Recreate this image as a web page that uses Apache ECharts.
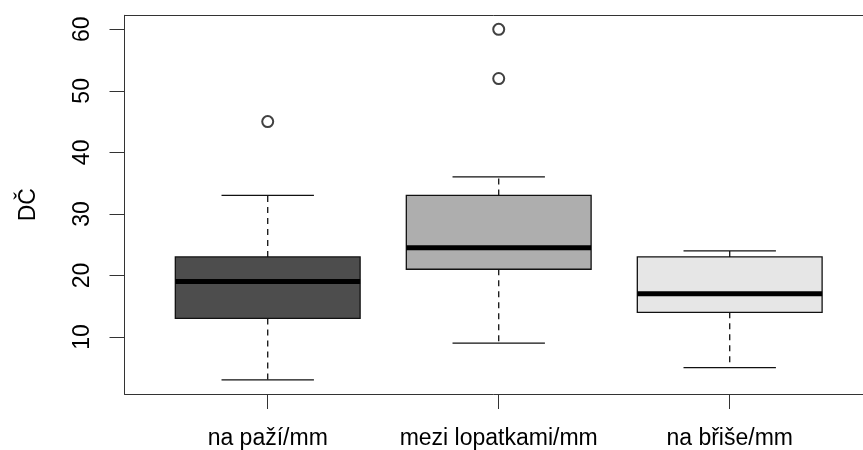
<!DOCTYPE html>
<html>
<head>
<meta charset="utf-8">
<script src="https://cdn.jsdelivr.net/npm/echarts@6/dist/echarts.min.js"></script>
<style>html,body{margin:0;padding:0;background:#fff;}#c{width:863px;height:450px;}</style>
</head>
<body>
<div id="c"></div>
<script>
var categories = ['na paží/mm', 'mezi lopatkami/mm', 'na břiše/mm'];
var whiskerLow = [3, 9, 5];
var q1 = [13, 21, 14];
var median = [19, 24.5, 17];
var q3 = [23, 33, 23];
var whiskerHigh = [33, 36, 24];
var outlierGroup = [1, 2, 2];
var outlierValue = [45, 52, 60];
var yTicks = [10, 20, 30, 40, 50, 60];
var xTicks = [1, 2, 3];
var boxFill = ['#4D4D4D', '#AEAEAE', '#E6E6E6'];

var boxData = categories.map(function (c, i) {
  return [i + 1, whiskerLow[i], q1[i], median[i], q3[i], whiskerHigh[i]];
});
var outData = outlierGroup.map(function (g, i) { return [g, outlierValue[i]]; });

var FONT = 'Liberation Sans, Arial, sans-serif';
var chart = echarts.init(document.getElementById('c'), null, {renderer: 'canvas'});

function renderBox(params, api) {
  var x = api.value(0);
  var lo = api.coord([x, api.value(1)]);
  var b1 = api.coord([x, api.value(2)]);
  var md = api.coord([x, api.value(3)]);
  var b3 = api.coord([x, api.value(4)]);
  var hi = api.coord([x, api.value(5)]);
  var w = api.size([0.8, 0])[0];
  var cx = lo[0];
  var lineStyle = {stroke: '#111', lineWidth: 1.3};
  var dash = {stroke: '#111', lineWidth: 1.3, lineDash: [6, 5]};
  return {
    type: 'group',
    children: [
      {type: 'line', shape: {x1: cx, y1: b3[1], x2: cx, y2: hi[1]}, style: dash},
      {type: 'line', shape: {x1: cx, y1: b1[1], x2: cx, y2: lo[1]}, style: dash},
      {type: 'line', shape: {x1: cx - w / 4, y1: hi[1], x2: cx + w / 4, y2: hi[1]}, style: lineStyle},
      {type: 'line', shape: {x1: cx - w / 4, y1: lo[1], x2: cx + w / 4, y2: lo[1]}, style: lineStyle},
      {type: 'rect', shape: {x: cx - w / 2, y: b3[1], width: w, height: b1[1] - b3[1]},
        style: {fill: boxFill[params.dataIndex], stroke: '#111', lineWidth: 1.3}},
      {type: 'line', shape: {x1: cx - w / 2, y1: md[1], x2: cx + w / 2, y2: md[1]},
        style: {stroke: '#000', lineWidth: 5}}
    ]
  };
}

chart.setOption({
  animation: false,
  backgroundColor: '#fff',
  grid: {left: 124.5, top: 15.3, right: 0, height: 378.7},
  xAxis: [{
    type: 'value', min: 0.38, max: 3.577, position: 'bottom',
    axisLine: {show: true, lineStyle: {color: '#333', width: 1}},
    axisTick: {show: true, length: 15, customValues: xTicks, lineStyle: {color: '#333', width: 1}},
    axisLabel: {show: true, customValues: xTicks, margin: 33, fontSize: 23, fontFamily: FONT, color: '#000',
      formatter: function (v) { return categories[Math.round(v) - 1] || ''; }},
    splitLine: {show: false}
  }, {
    type: 'value', min: 0.38, max: 3.577, position: 'top',
    axisLine: {show: true, lineStyle: {color: '#333', width: 1}},
    axisTick: {show: false}, axisLabel: {show: false}, splitLine: {show: false}
  }],
  yAxis: {
    type: 'value', min: 0.72, max: 62.28,
    name: 'DČ', nameLocation: 'middle', nameRotate: 90, nameGap: 84,
    nameTextStyle: {fontSize: 23, fontFamily: FONT, color: '#000'},
    axisLine: {show: true, lineStyle: {color: '#333', width: 1}},
    axisTick: {show: true, length: 15, customValues: yTicks, lineStyle: {color: '#333', width: 1}},
    axisLabel: {show: true, customValues: yTicks, rotate: 90, margin: 30, fontSize: 23, fontFamily: FONT, color: '#000'},
    splitLine: {show: false}
  },
  series: [{
    type: 'custom', xAxisIndex: 0, data: boxData, renderItem: renderBox,
    encode: {x: 0, y: [1, 2, 3, 4, 5]}
  }, {
    type: 'scatter', xAxisIndex: 0, data: outData, symbol: 'emptyCircle', symbolSize: 11,
    itemStyle: {color: '#111', borderColor: '#111', borderWidth: 1.3}
  }]
});
</script>
</body>
</html>
